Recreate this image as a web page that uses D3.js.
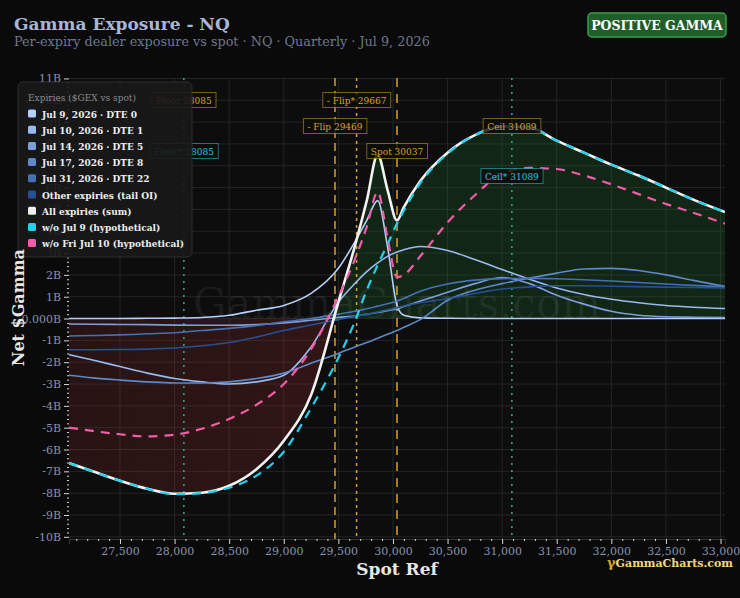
<!DOCTYPE html>
<html>
<head>
<meta charset="utf-8">
<script src="https://cdn.jsdelivr.net/npm/d3@7"></script>
<style>
  body { margin: 0; background: #0a0a0a; }
  svg text { font-family: "DejaVu Serif", serif; }
  .cond { font-family: "DejaVu Serif Condensed", "DejaVu Serif", serif; font-stretch: condensed; }
</style>
</head>
<body>
<div id="chart"></div>
<script>
/* Gamma exposure per expiry vs spot - NQ */

const spots = [27033, 27250, 27500, 27750, 28000, 28250, 28500, 28750, 29000, 29250, 29500, 29650, 29760, 29860, 29950, 30037, 30100, 30250, 30500, 30750, 31000, 31250, 31500, 31750, 32000, 32250, 32500, 32750, 33041];

const jul9  = [0, 0, 0, 0.01, 0.02, 0.05, 0.15, 0.38, 0.6, 1.15, 2.3, 3.5, 4.5, 5.4, 3.3, 0.6, 0.15, 0.03, 0.01, 0, 0, 0, 0, 0, 0, 0, 0, 0, 0];
const jul10 = [-1.65, -1.9, -2.2, -2.5, -2.75, -2.9, -3.0, -2.9, -2.6, -1.3, 0.75, 1.6, 2.15, 2.55, 2.85, 3.05, 3.15, 3.3, 3.12, 2.7, 2.25, 1.8, 1.4, 1.1, 0.88, 0.72, 0.6, 0.52, 0.46];
const jul14 = [-0.25, -0.26, -0.27, -0.28, -0.3, -0.31, -0.31, -0.28, -0.2, -0.08, 0.05, 0.12, 0.2, 0.28, 0.36, 0.45, 0.55, 0.8, 1.2, 1.6, 1.88, 1.6, 1.07, 0.66, 0.33, 0.15, 0.08, 0.06, 0.05];
const jul17 = [-2.6, -2.72, -2.82, -2.9, -2.95, -2.95, -2.9, -2.75, -2.5, -2.05, -1.6, -1.3, -1.1, -0.9, -0.72, -0.55, -0.4, -0.05, 0.84, 1.3, 1.6, 1.85, 2.08, 2.27, 2.3, 2.2, 2.0, 1.75, 1.47];
const jul31 = [-0.8, -0.78, -0.75, -0.7, -0.65, -0.55, -0.45, -0.32, -0.15, 0.0, 0.2, 0.33, 0.45, 0.57, 0.68, 0.8, 0.92, 1.25, 1.58, 1.76, 1.83, 1.84, 1.82, 1.78, 1.72, 1.65, 1.58, 1.52, 1.45];
const other = [-1.43, -1.43, -1.42, -1.4, -1.35, -1.25, -1.1, -0.85, -0.55, -0.3, -0.05, 0.1, 0.2, 0.3, 0.4, 0.5, 0.58, 0.72, 0.92, 1.15, 1.35, 1.45, 1.5, 1.5, 1.48, 1.46, 1.44, 1.42, 1.4];
const allSum = [-6.62, -7.0, -7.43, -7.8, -8.03, -7.98, -7.66, -6.9, -5.6, -3.5, 0.75, 3.3, 5.4, 7.5, 5.9, 4.5, 5.1, 6.3, 7.6, 8.4, 8.8, 8.75, 8.15, 7.6, 7.05, 6.55, 6.0, 5.45, 4.88];
const woJul9 = [-6.62, -7.0, -7.43, -7.8, -8.05, -8.0, -7.75, -7.2, -6.1, -4.1, -1.8, -0.15, 1.3, 2.45, 3.4, 4.35, 4.95, 6.2, 7.55, 8.4, 8.8, 8.75, 8.15, 7.6, 7.05, 6.55, 6.0, 5.45, 4.88];
const woJul10 = [-5.0, -5.15, -5.3, -5.4, -5.32, -5.05, -4.6, -3.95, -3.0, -1.4, 1.0, 2.7, 4.2, 5.8, 3.7, 1.9, 2.0, 2.85, 4.4, 5.65, 6.65, 6.9, 6.85, 6.55, 6.15, 5.7, 5.25, 4.85, 4.35];

const expiryNames = ["Jul 9, 2026 · DTE 0", "Jul 10, 2026 · DTE 1", "Jul 14, 2026 · DTE 5", "Jul 17, 2026 · DTE 8", "Jul 31, 2026 · DTE 22", "Other expiries (tail OI)"];
const expiryColors = ["#b4cffa", "#9ab9ee", "#7c9fdc", "#5f88c8", "#4470b4", "#245096"];
const expirySeries = [jul9, jul10, jul14, jul17, jul31, other];

const levels = [
    { name: "Floor", value: 28085, kind: "floor" },
    { name: "Ceil", value: 31089, kind: "ceil" },
    { name: "- Flip", value: 29469, kind: "flip" },
    { name: "- Flip*", value: 29667, kind: "flipStar" },
    { name: "Spot", value: 30037, kind: "spot" },
    { name: "Floor*", value: 28085, kind: "floorStar" },
    { name: "Ceil*", value: 31089, kind: "ceilStar" }
];

const width = 740,
      height = 598,
      margin = ({ top: 78, right: 15, bottom: 59, left: 69 });

let svg = d3.select("#chart")
    .append("svg")
    .attr("width", width)
    .attr("height", height)
    .style("display", "block")
    .style("background", "#0a0a0a");

let x = d3.scaleLinear()
    .domain([27033, 33041])
    .range([margin.left, width - margin.right]);

let y = d3.scaleLinear()
    .domain([-10.1, 11.02])
    .range([height - margin.bottom, margin.top]);

// plot background
svg.append("rect")
    .attr("x", margin.left)
    .attr("y", margin.top)
    .attr("width", width - margin.left - margin.right)
    .attr("height", height - margin.top - margin.bottom)
    .attr("fill", "#0d0d0d");

// grid
svg.append("g")
    .selectAll("line")
    .data(d3.range(-10, 12, 1))
    .join("line")
    .attr("x1", margin.left).attr("x2", width - margin.right)
    .attr("y1", d => y(d)).attr("y2", d => y(d))
    .attr("stroke", "#252525");

svg.append("g")
    .selectAll("line")
    .data(d3.range(27500, 33001, 500))
    .join("line")
    .attr("y1", margin.top).attr("y2", height - margin.bottom)
    .attr("x1", d => x(d)).attr("x2", d => x(d))
    .attr("stroke", "#252525");

// fills between zero and the total
let defs = svg.append("defs");
let redGrad = defs.append("linearGradient")
    .attr("id", "redFill")
    .attr("x1", "0%").attr("x2", "100%").attr("y1", "0%").attr("y2", "0%");
redGrad.append("stop").attr("offset", "0%").attr("stop-color", "#a83232").attr("stop-opacity", 0.17);
redGrad.append("stop").attr("offset", "100%").attr("stop-color", "#b83636").attr("stop-opacity", 0.3);

let clip = defs.append("clipPath").attr("id", "plotClip");
clip.append("rect")
    .attr("x", margin.left).attr("y", margin.top)
    .attr("width", width - margin.left - margin.right)
    .attr("height", height - margin.top - margin.bottom);

const plot = svg.append("g").attr("clip-path", "url(#plotClip)");

const negArea = d3.area()
    .x((d, i) => x(spots[i]))
    .y0(y(0))
    .y1(d => y(Math.min(d, 0)))
    .curve(d3.curveMonotoneX);

const posArea = d3.area()
    .x((d, i) => x(spots[i]))
    .y0(y(0))
    .y1(d => y(Math.max(d, 0)))
    .curve(d3.curveMonotoneX);

plot.append("path")
    .attr("d", negArea(allSum))
    .attr("fill", "url(#redFill)");

plot.append("path")
    .attr("d", posArea(allSum))
    .attr("fill", "#2a8a3c")
    .attr("fill-opacity", 0.2);

// watermark
svg.append("text")
    .attr("x", 397)
    .attr("y", 318)
    .attr("text-anchor", "middle")
    .attr("font-size", 42)
    .attr("fill", "#ffffff")
    .attr("fill-opacity", 0.06)
    .text("GammaCharts.com");

// level lines
const levelStyle = {
    floor:     { color: "#3aa88e", dash: "2,5", width: 1.5 },
    ceil:      { color: "#3aa88e", dash: "2,5", width: 1.5 },
    flip:      { color: "#d9a030", dash: "8,5", width: 1.5 },
    flipStar:  { color: "#d9a030", dash: "3,4", width: 1.5 },
    spot:      { color: "#d9a030", dash: "9,7", width: 1.5 }
};

plot.selectAll(".level")
    .data(levels.filter(d => levelStyle[d.kind]))
    .join("line")
    .attr("class", "level")
    .attr("x1", d => x(d.value)).attr("x2", d => x(d.value))
    .attr("y1", margin.top).attr("y2", height - margin.bottom)
    .attr("stroke", d => levelStyle[d.kind].color)
    .attr("stroke-width", d => levelStyle[d.kind].width)
    .attr("stroke-dasharray", d => levelStyle[d.kind].dash);

// series lines
const line = d3.line()
    .x((d, i) => x(spots[i]))
    .y(d => y(d))
    .curve(d3.curveMonotoneX);

plot.selectAll(".expiry")
    .data(expirySeries)
    .join("path")
    .attr("class", "expiry")
    .attr("d", d => line(d))
    .attr("fill", "none")
    .attr("stroke", (d, i) => expiryColors[i])
    .attr("stroke-width", 1.6);

plot.append("path")
    .attr("d", line(allSum))
    .attr("fill", "none")
    .attr("stroke", "#f2f2f2")
    .attr("stroke-width", 2.6);

plot.append("path")
    .attr("d", line(woJul9))
    .attr("fill", "none")
    .attr("stroke", "#22d0ea")
    .attr("stroke-width", 2.2)
    .attr("stroke-dasharray", "9,7");

plot.append("path")
    .attr("d", line(woJul10))
    .attr("fill", "none")
    .attr("stroke", "#f25ca8")
    .attr("stroke-width", 2.2)
    .attr("stroke-dasharray", "9,7");

// axes
const yAxis = g => g
    .attr("transform", `translate(${margin.left},0)`)
    .call(d3.axisLeft(y)
        .tickValues(d3.range(-10, 12, 1))
        .tickFormat(d => d === 0 ? "0.000B" : d + "B")
        .tickSize(5))
    .call(g => g.select(".domain").remove());

const yMinor = g => g
    .attr("transform", `translate(${margin.left},0)`)
    .call(d3.axisLeft(y)
        .tickValues(d3.range(-50, 56, 1).map(d => d / 5).filter(d => d % 1 !== 0))
        .tickFormat("")
        .tickSize(2))
    .call(g => g.select(".domain").remove());

const xAxis = g => g
    .attr("transform", `translate(0,${height - margin.bottom})`)
    .call(d3.axisBottom(x)
        .tickValues(d3.range(27500, 33001, 500))
        .tickFormat(d3.format(","))
        .tickSize(5))
    .call(g => g.select(".domain").attr("stroke", "#333"));

const xMinor = g => g
    .attr("transform", `translate(0,${height - margin.bottom})`)
    .call(d3.axisBottom(x)
        .tickValues(d3.range(27100, 33041, 100).filter(d => d % 500 !== 0))
        .tickFormat("")
        .tickSize(2))
    .call(g => g.select(".domain").remove());

[yAxis, yMinor, xAxis, xMinor].forEach(a => {
    let g = svg.append("g").call(a);
    g.selectAll(".tick line").attr("stroke", "#d8d8d8");
    g.selectAll(".tick text")
        .attr("fill", "#8893ad")
        .attr("font-size", 11)
        .attr("font-family", "DejaVu Serif");
});

// level labels
const labelStyle = {
    floor:     { color: "#d9a030", row: 100 },
    flipStar:  { color: "#d9a030", row: 100 },
    flip:      { color: "#d9a030", row: 126 },
    ceil:      { color: "#d9a030", row: 126 },
    spot:      { color: "#d9a030", row: 151 },
    floorStar: { color: "#26c6e0", row: 151 },
    ceilStar:  { color: "#26c6e0", row: 176 }
};

let labels = svg.selectAll(".levelLabel")
    .data(levels)
    .join("g")
    .attr("class", "levelLabel")
    .attr("transform", d => `translate(${x(d.value)},${labelStyle[d.kind].row})`);

labels.append("text")
    .attr("class", "cond")
    .attr("text-anchor", "middle")
    .attr("dy", "0.35em")
    .attr("font-size", 10)
    .attr("fill", d => labelStyle[d.kind].color)
    .text(d => `${d.name} ${d.value}`)
    .each(function () {
        let b = this.getBBox();
        d3.select(this.parentNode).insert("rect", "text")
            .attr("x", b.x - 4).attr("y", b.y - 2)
            .attr("width", b.width + 8).attr("height", b.height + 4)
            .attr("fill", "#0c0c08")
            .attr("fill-opacity", 0.8)
            .attr("stroke", d3.select(this).attr("fill"))
            .attr("stroke-opacity", 0.55);
    });

// legend
const legendItems = expiryNames.map((n, i) => ({ name: n, color: expiryColors[i] }))
    .concat([
        { name: "All expiries (sum)", color: "#eeeeee" },
        { name: "w/o Jul 9 (hypothetical)", color: "#22d0ea" },
        { name: "w/o Fri Jul 10 (hypothetical)", color: "#f25ca8" }
    ]);

let legend = svg.append("g").attr("transform", "translate(18,82)");

legend.append("rect")
    .attr("width", 174).attr("height", 175).attr("rx", 5)
    .attr("fill", "#181818").attr("fill-opacity", 0.9)
    .attr("stroke", "#2e2e2e");

legend.append("text")
    .attr("class", "cond")
    .attr("x", 10).attr("y", 19)
    .attr("font-size", 10)
    .attr("fill", "#8a8a8a")
    .text("Expiries ($GEX vs spot)");

let item = legend.selectAll(".item")
    .data(legendItems)
    .join("g")
    .attr("class", "item")
    .attr("transform", (d, i) => `translate(10,${32 + i * 16.2})`);

item.append("rect")
    .attr("width", 8).attr("height", 8).attr("y", -4.5).attr("rx", 1.5)
    .attr("fill", d => d.color);

item.append("text")
    .attr("class", "cond")
    .attr("x", 14).attr("dy", "0.35em")
    .attr("font-size", 10)
    .attr("font-weight", "bold")
    .attr("fill", "#eeeeee")
    .text(d => d.name);

// titles
svg.append("text")
    .attr("x", 14).attr("y", 30)
    .attr("font-size", 17).attr("font-weight", "bold")
    .attr("fill", "#a8b6d6")
    .text("Gamma Exposure - NQ");

svg.append("text")
    .attr("x", 14).attr("y", 46)
    .attr("font-size", 12.8)
    .attr("fill", "#6d7890")
    .text("Per-expiry dealer exposure vs spot · NQ · Quarterly · Jul 9, 2026");

let badge = svg.append("g").attr("transform", "translate(588,13)");
badge.append("rect")
    .attr("width", 138).attr("height", 24).attr("rx", 4)
    .attr("fill", "#1f5e2a").attr("stroke", "#3c9c4a").attr("stroke-width", 1.5);
badge.append("text")
    .attr("x", 69).attr("y", 16.5)
    .attr("text-anchor", "middle")
    .attr("font-size", 12.5).attr("font-weight", "bold")
    .attr("fill", "#ffffff")
    .text("POSITIVE GAMMA");

svg.append("text")
    .attr("transform", `translate(18,${y(0.5)}) rotate(-90)`)
    .attr("text-anchor", "middle")
    .attr("dy", "0.35em")
    .attr("font-size", 16).attr("font-weight", "bold")
    .attr("fill", "#e6e6e6")
    .text("Net $Gamma");

svg.append("text")
    .attr("x", 397).attr("y", 575)
    .attr("text-anchor", "middle")
    .attr("font-size", 17).attr("font-weight", "bold")
    .attr("fill", "#e6e6e6")
    .text("Spot Ref");

let logo = svg.append("text")
    .attr("x", 733).attr("y", 567)
    .attr("text-anchor", "end")
    .attr("font-size", 11).attr("font-weight", "bold")
    .attr("font-family", "DejaVu Sans");
logo.append("tspan").attr("fill", "#e0a826").attr("font-size", 13).text("γ");
logo.append("tspan").attr("fill", "#f3d877").text("GammaCharts.com");
</script>
</body>
</html>
